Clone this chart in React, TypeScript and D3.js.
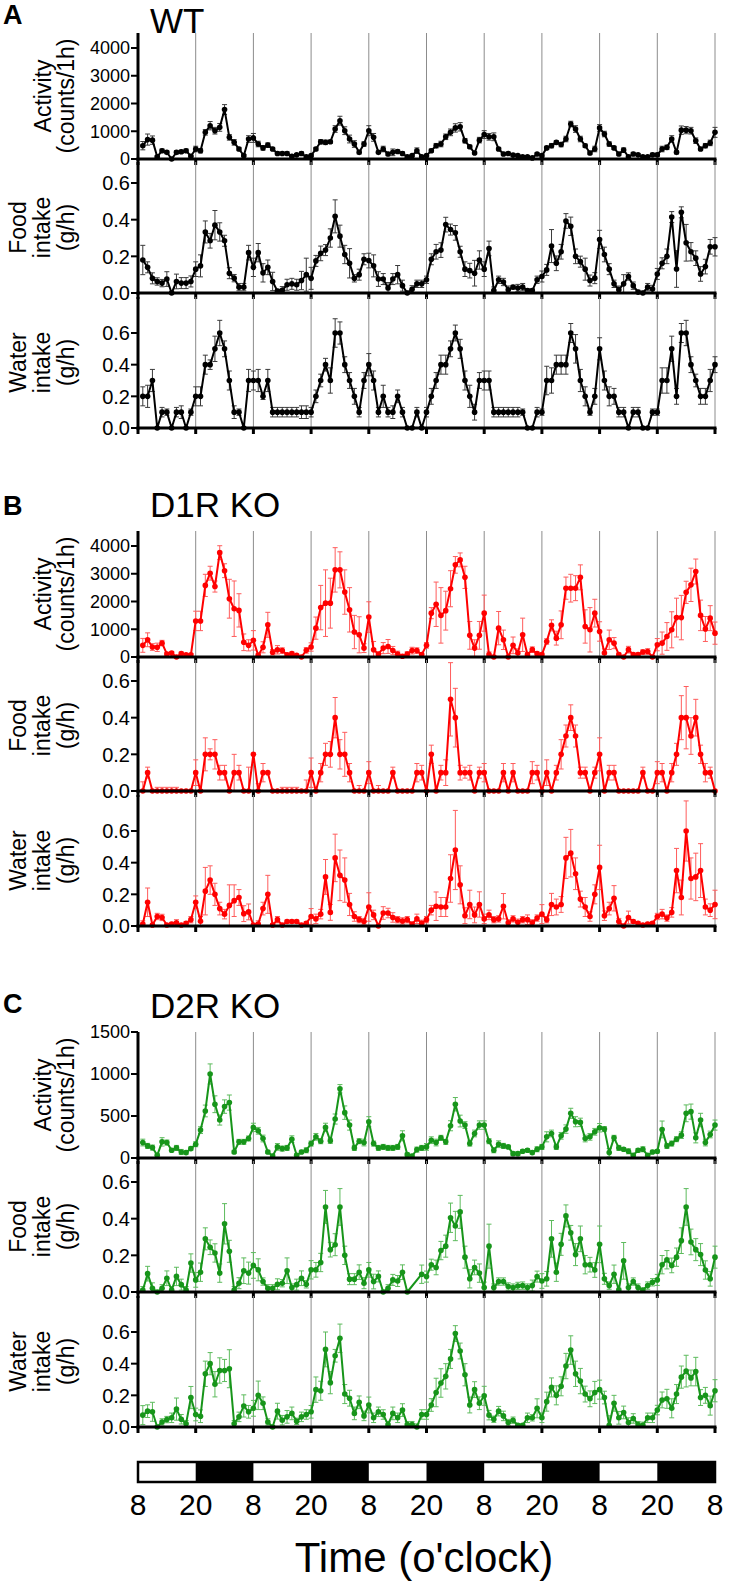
import React from 'react';
import * as d3 from 'd3';

// hourly bins 1..120 (five light/dark days starting 8 o'clock)
const hours = d3.range(1, 121);
const clockLabels = ['8', '20', '8', '20', '8', '20', '8', '20', '8', '20', '8'];
const activityTicksBig = [0, 1000, 2000, 3000, 4000];
const activityTicksSmall = [0, 500, 1000, 1500];
const intakeTicks = [0, 0.2, 0.4, 0.6];

// ---- WT ----
const actWT = [480,700,680,80,300,240,0,240,260,300,100,360, 300,960,1200,1020,1140,1780,780,600,360,120,720,760,
  540,400,500,360,200,200,200,100,150,200,80,120, 360,620,600,620,1080,1380,1020,720,540,240,540,1020,
  780,240,360,180,240,270,200,80,120,300,80,120, 300,480,540,800,960,1120,1160,660,440,216,680,880,
  800,800,360,180,200,140,120,80,80,40,180,120, 400,480,600,520,720,1260,1080,720,480,216,360,1120,
  900,540,400,180,320,80,180,150,80,80,150,150, 360,420,720,240,1040,1040,1020,660,360,480,580,960];
const actWTErr = [150,200,150,30,60,50,20,60,60,60,30,100, 80,100,150,120,140,180,100,100,60,40,120,160,
  100,80,80,60,60,50,60,40,40,60,30,40, 60,80,80,60,120,160,140,140,120,60,80,180,
  140,50,100,60,120,60,60,30,40,100,40,40, 60,80,100,100,120,150,150,80,60,40,100,140,
  120,140,60,60,50,60,40,40,30,40,40,60, 60,80,60,80,100,100,120,100,60,60,100,120,
  100,80,60,60,80,40,60,40,40,40,60,60, 100,80,120,60,150,130,120,100,60,80,100,180];
const foodWT = [0.18,0.14,0.08,0.063,0.054,0.076,0.0,0.063,0.054,0.054,0.063,0.13, 0.148,0.333,0.285,0.37,0.333,0.285,0.108,0.081,0.032,0.032,0.22,0.14,
  0.22,0.11,0.14,0.063,0.01,0.015,0.045,0.05,0.045,0.068,0.1,0.08, 0.175,0.216,0.234,0.3,0.418,0.31,0.21,0.162,0.08,0.1,0.184,0.177,
  0.148,0.076,0.076,0.027,0.076,0.1,0.04,0.0,0.02,0.05,0.05,0.072, 0.184,0.225,0.234,0.373,0.346,0.328,0.225,0.13,0.122,0.108,0.18,0.13,
  0.243,0.013,0.072,0.06,0.018,0.032,0.027,0.032,0.013,0.013,0.072,0.09, 0.126,0.256,0.162,0.225,0.393,0.364,0.2,0.171,0.13,0.068,0.081,0.292,
  0.21,0.13,0.05,0.018,0.05,0.09,0.04,0.005,0.0,0.032,0.022,0.104, 0.162,0.2,0.414,0.131,0.44,0.274,0.225,0.19,0.104,0.144,0.252,0.252];
const foodWTErr = [0.08,0.03,0.03,0.02,0.02,0.04,0.01,0.04,0.03,0.03,0.03,0.04, 0.06,0.06,0.04,0.08,0.05,0.03,0.03,0.02,0.02,0.02,0.04,0.05,
  0.05,0.05,0.04,0.05,0.01,0.02,0.03,0.03,0.03,0.05,0.09,0.06, 0.03,0.04,0.03,0.05,0.09,0.06,0.05,0.08,0.02,0.03,0.03,0.04,
  0.06,0.04,0.03,0.03,0.03,0.05,0.03,0.01,0.02,0.02,0.02,0.02, 0.03,0.04,0.04,0.04,0.03,0.04,0.03,0.04,0.04,0.07,0.05,0.04,
  0.04,0.02,0.02,0.02,0.02,0.01,0.02,0.02,0.01,0.01,0.02,0.03, 0.03,0.09,0.04,0.04,0.04,0.05,0.04,0.03,0.06,0.03,0.03,0.05,
  0.04,0.03,0.02,0.02,0.05,0.02,0.02,0.01,0.01,0.02,0.02,0.03, 0.03,0.04,0.03,0.10,0.03,0.10,0.05,0.04,0.04,0.04,0.04,0.05];
const waterWT = [0.2,0.2,0.3,0,0.1,0.1,0,0.1,0.1,0,0.1,0.2, 0.2,0.4,0.4,0.5,0.6,0.5,0.3,0.1,0.1,0,0.3,0.3,
  0.3,0.2,0.3,0.1,0.1,0.1,0.1,0.1,0.1,0.1,0.1,0.1, 0.2,0.3,0.4,0.3,0.6,0.6,0.4,0.3,0.2,0.1,0.3,0.4,
  0.3,0.1,0.2,0.1,0.1,0.2,0.1,0,0,0.1,0,0.1, 0.2,0.3,0.4,0.4,0.5,0.6,0.5,0.3,0.2,0.1,0.3,0.3,
  0.3,0.1,0.1,0.1,0.1,0.1,0.1,0.1,0,0,0.1,0.1, 0.3,0.3,0.4,0.4,0.4,0.6,0.5,0.3,0.2,0.1,0.2,0.5,
  0.3,0.2,0.2,0.1,0.1,0,0.1,0.1,0,0,0.1,0.1, 0.3,0.3,0.5,0.2,0.6,0.6,0.4,0.3,0.2,0.2,0.3,0.4];
const waterWTErr = [0.06,0.07,0.07,0,0.03,0.02,0,0.03,0.04,0,0.02,0.06, 0.06,0.06,0.03,0.08,0.08,0.05,0.06,0.04,0.02,0,0.07,0.06,
  0.07,0.02,0.07,0.03,0.03,0.03,0.03,0.03,0.03,0.04,0.04,0.03, 0.04,0.04,0.04,0.08,0.09,0.07,0.05,0.05,0.05,0.03,0.05,0.07,
  0.06,0.03,0.07,0.03,0.04,0.04,0.03,0,0,0.03,0,0.03, 0.05,0.05,0.06,0.06,0.05,0.05,0.06,0.06,0.07,0.05,0.05,0.06,
  0.06,0.03,0.03,0.03,0.03,0.03,0.03,0.02,0,0,0.03,0.02, 0.09,0.08,0.06,0.06,0.06,0.06,0.09,0.07,0.06,0.02,0.05,0.07,
  0.06,0.06,0.05,0.03,0.03,0,0.03,0.03,0,0,0.02,0.02, 0.08,0.08,0.08,0.05,0.06,0.08,0.05,0.04,0.05,0.05,0.07,0.05];

// ---- D1R KO ----
const actD1 = [420,620,360,350,500,110,140,0,120,80,80,1300, 1300,2580,3020,2540,3760,3110,2100,1740,1680,530,420,600,
  60,350,1160,170,260,230,80,120,60,0,240,360, 1040,1780,1940,1940,3140,3140,2340,1700,900,800,320,1440,
  260,110,320,380,230,110,25,110,230,230,90,420, 1580,1900,1500,1670,2460,3320,3500,2870,780,320,780,1580,
  84,0,1040,620,0,420,144,800,84,264,120,84, 560,1140,680,1160,2480,2480,2480,2870,1100,980,1580,920,
  144,620,500,84,0,264,84,84,180,200,0,444, 500,740,980,1420,1420,2330,2600,3080,1500,1010,1400,860];
const actD1Err = [250,250,120,150,100,60,60,20,60,40,40,350, 350,400,250,200,250,250,700,1000,600,300,200,350,
  60,200,450,100,150,100,60,60,40,30,100,150, 400,800,1200,900,800,650,800,800,600,650,160,550,
  300,60,200,250,150,100,40,80,120,100,60,100, 200,800,1000,700,650,300,250,400,500,300,500,650,
  100,60,600,350,60,300,150,600,80,100,60,60, 100,200,250,500,400,500,450,450,600,800,500,350,
  150,350,200,60,40,120,60,60,80,100,40,220, 400,500,650,700,800,400,600,450,550,450,450,400];
const foodD1 = [0,0.1,0,0,0,0,0,0,0,0,0,0.1, 0,0.2,0.2,0.2,0.1,0.1,0,0.1,0.1,0,0,0.2,
  0,0.1,0.1,0,0,0,0,0,0,0,0,0.1, 0,0.1,0.2,0.2,0.4,0.2,0.2,0.1,0,0,0,0.1,
  0,0,0,0,0.1,0,0,0,0,0.1,0.1,0, 0.2,0,0.1,0.1,0.5,0.4,0.1,0.1,0.1,0,0.1,0.1,
  0,0,0,0.1,0,0.1,0,0,0,0.1,0.1,0, 0.1,0,0.1,0.2,0.3,0.4,0.3,0.1,0.1,0,0.1,0.2,
  0,0.1,0.1,0,0,0,0,0,0.1,0,0,0.1, 0.1,0,0.1,0.2,0.4,0.4,0.3,0.4,0.2,0.1,0.1,0];
const foodD1Err = [0.05,0.03,0,0.02,0.02,0.02,0.02,0.02,0,0,0,0.07, 0,0.09,0.03,0.08,0.04,0.04,0,0.1,0.04,0,0.13,0,
  0.04,0.05,0,0,0,0.02,0.02,0.02,0.02,0,0.06,0.08, 0,0.05,0.06,0.07,0.11,0.08,0.12,0.05,0,0.03,0,0.06,
  0,0.03,0,0,0.03,0,0,0,0,0.05,0.04,0, 0.05,0,0.04,0.07,0.2,0.16,0.04,0.03,0.04,0,0.03,0.05,
  0,0,0,0.05,0,0.05,0,0,0,0.06,0.04,0, 0.07,0,0.04,0.08,0.06,0.07,0.06,0.03,0.03,0,0.03,0.09,
  0,0.04,0.04,0,0,0,0,0,0.03,0,0,0.06, 0.05,0,0.05,0.06,0.12,0.17,0.1,0.1,0.05,0.05,0.03,0];
const waterD1 = [0.013,0.15,0.006,0.06,0.054,0.006,0.013,0.02,0.006,0.017,0.04,0.15, 0.03,0.22,0.29,0.2,0.11,0.075,0.13,0.16,0.18,0.078,0.089,0.006,
  0.013,0.11,0.2,0.006,0.04,0.006,0.028,0.028,0.028,0.006,0.017,0.06, 0.045,0.075,0.31,0.086,0.43,0.32,0.29,0.136,0.06,0.04,0.028,0.12,
  0.07,0,0.082,0.082,0.054,0.04,0.032,0.04,0.013,0.045,0.017,0.04, 0.1,0.125,0.12,0.12,0.3,0.48,0.26,0.065,0.136,0.07,0.136,0.045,
  0.07,0.04,0.045,0.125,0.02,0.045,0.024,0.04,0.04,0.02,0.05,0.075, 0.04,0.136,0.12,0.136,0.43,0.46,0.33,0.17,0.12,0.06,0.2,0.37,
  0.065,0.11,0.175,0.028,0,0.054,0.028,0.017,0.006,0.013,0.017,0.06, 0.075,0.05,0.086,0.35,0.18,0.6,0.3,0.31,0.35,0.12,0.1,0.136];
const waterD1Err = [0.02,0.09,0.01,0.02,0.02,0.01,0.01,0.02,0.01,0.01,0.02,0.04, 0.03,0.15,0.09,0.07,0.04,0.03,0.13,0.1,0.05,0.05,0.05,0.01,
  0.02,0.04,0.12,0.01,0.02,0.01,0.01,0.01,0.01,0.01,0.01,0.05, 0.03,0.03,0.11,0.05,0.15,0.16,0.14,0.07,0.03,0.02,0.02,0.09,
  0.03,0.01,0.04,0.03,0.03,0.02,0.02,0.02,0.01,0.03,0.02,0.02, 0.03,0.09,0.06,0.06,0.15,0.25,0.12,0.05,0.09,0.05,0.08,0.03,
  0.03,0.02,0.02,0.08,0.02,0.02,0.02,0.02,0.03,0.02,0.02,0.06, 0.02,0.07,0.05,0.05,0.13,0.15,0.1,0.05,0.06,0.03,0.06,0.14,
  0.03,0.04,0.08,0.02,0.01,0.04,0.01,0.01,0.01,0.01,0.01,0.02, 0.03,0.02,0.03,0.14,0.11,0.19,0.13,0.15,0.17,0.05,0.04,0.09];

// ---- D2R KO ----
const actD2 = [184,144,124,32,192,184,92,120,72,64,112,164, 332,560,1000,640,452,612,660,72,192,192,232,364,
  324,232,72,24,132,112,120,224,32,72,92,172, 252,200,364,204,464,824,540,392,120,200,184,432,
  172,120,132,120,120,132,264,40,24,100,120,132, 212,184,240,192,384,640,440,392,172,292,392,392,
  200,92,164,144,132,52,52,80,92,64,104,132, 252,292,132,264,344,532,432,424,232,252,312,360,
  344,64,240,120,104,80,32,92,104,32,72,80, 340,144,172,224,272,532,552,240,452,184,280,392];
const actD2Err = [40,30,30,20,50,30,20,30,30,20,20,30, 40,70,120,100,60,80,90,20,30,30,30,50,
  40,40,20,20,40,30,30,40,20,20,30,30, 40,30,50,30,60,50,80,60,30,30,40,60,
  30,30,30,30,30,30,60,20,20,30,30,40, 40,40,30,30,60,80,70,40,30,40,50,50,
  30,30,40,30,20,20,20,20,20,20,30,30, 60,40,30,40,50,60,60,50,40,40,40,50,
  30,50,30,30,20,30,20,20,30,20,20,20, 100,30,30,30,40,100,90,60,80,40,40,60];
const foodD2 = [0.01,0.1,0.02,0.0,0.02,0.075,0.01,0.085,0.04,0.01,0.158,0.066, 0.108,0.29,0.244,0.213,0.103,0.372,0.222,0.01,0.048,0.116,0.103,0.145,
  0.121,0.057,0.02,0.02,0.042,0.048,0.116,0.024,0.04,0.075,0.042,0.121, 0.121,0.161,0.464,0.231,0.258,0.464,0.2,0.07,0.07,0.108,0.048,0.121,
  0.057,0.085,0.0,0.02,0.066,0.06,0.108,0.0,null,null,0.097,0.084, 0.149,0.134,0.226,0.25,0.405,0.36,0.437,0.19,0.072,0.134,0.103,0.024,
  0.25,0.024,0.057,0.057,0.03,0.024,0.033,0.035,0.024,0.035,0.084,0.06, 0.072,0.29,0.108,0.26,0.415,0.323,0.204,0.29,0.149,0.149,0.12,0.26,
  0.072,0.035,0.097,0.011,0.17,0.024,0.057,0.024,0.011,0.035,0.053,0.066, 0.149,0.176,0.145,0.19,0.28,0.464,0.273,0.231,0.204,0.12,0.072,0.19];
const foodD2Err = [0.02,0.04,0.03,0,0.02,0.04,0.02,0.05,0.03,0.02,0.05,0.04, 0.05,0.06,0.04,0.05,0.05,0.11,0.06,0.02,0.03,0.07,0.06,0.07,
  0.06,0.02,0.02,0.02,0.03,0.02,0.07,0.02,0.03,0.04,0.02,0.05, 0.04,0.05,0.09,0.04,0.06,0.1,0.05,0.03,0.03,0.04,0.03,0.04,
  0.04,0.03,0.01,0.02,0.03,0.03,0.04,0,0,0,0.05,0.03, 0.03,0.04,0.05,0.06,0.08,0.08,0.09,0.06,0.05,0.04,0.05,0.03,
  0.12,0.02,0.02,0.02,0.02,0.02,0.02,0.02,0.02,0.03,0.03,0.04, 0.04,0.1,0.05,0.06,0.06,0.04,0.06,0.07,0.05,0.04,0.04,0.1,
  0.03,0.02,0.05,0.01,0.1,0.02,0.02,0.02,0.01,0.02,0.02,0.03, 0.05,0.05,0.04,0.05,0.07,0.1,0.07,0.06,0.06,0.05,0.04,0.06];
const waterD2 = [0.075,0.1,0.096,0,0.032,0.047,0.058,0.113,0.049,0.021,0.186,0.079, 0.068,0.336,0.4,0.27,0.357,0.357,0.368,0.021,0.064,0.133,0.096,0.118,
  0.2,0.15,0.032,0,0.1,0.043,0.064,0.086,0.036,0.064,0.079,0.096, 0.236,0.229,0.49,0.28,0.45,0.56,0.208,0.182,0.086,0.156,0.07,0.139,
  0.058,0.096,0.079,0.015,0.086,0.058,0.107,0.015,0.015,0,0.079,0.079, 0.139,0.218,0.278,0.32,0.43,0.59,0.48,0.33,0.139,0.236,0.15,0.197,
  0.075,0.049,0.1,0.07,0.028,0.043,0.011,0.011,0.058,0.058,0.118,0.058, 0.16,0.25,0.2,0.257,0.385,0.486,0.336,0.29,0.208,0.178,0.218,0.236,
  0.186,0.011,0.15,0.058,0.092,0.028,0.054,0.015,0.011,0.058,0.058,0.107, 0.171,0.178,0.118,0.208,0.315,0.353,0.31,0.35,0.186,0.2,0.135,0.229];
const waterD2Err = [0.06,0.04,0.06,0.01,0.02,0.02,0.03,0.07,0.03,0.02,0.07,0.04, 0.04,0.08,0.07,0.08,0.08,0.07,0.12,0.02,0.03,0.07,0.04,0.05,
  0.09,0.04,0.02,0.01,0.05,0.03,0.04,0.04,0.02,0.03,0.03,0.04, 0.08,0.06,0.11,0.07,0.04,0.09,0.06,0.05,0.04,0.04,0.03,0.05,
  0.03,0.03,0.03,0.02,0.04,0.03,0.04,0.02,0.02,0.02,0.03,0.03, 0.04,0.09,0.09,0.08,0.06,0.05,0.05,0.07,0.05,0.05,0.04,0.06,
  0.03,0.02,0.03,0.03,0.02,0.02,0.01,0.01,0.03,0.02,0.06,0.03, 0.06,0.06,0.06,0.06,0.08,0.09,0.08,0.08,0.05,0.05,0.07,0.06,
  0.04,0.06,0.05,0.04,0.04,0.03,0.03,0.02,0.02,0.03,0.03,0.03, 0.05,0.06,0.06,0.06,0.07,0.1,0.05,0.09,0.05,0.05,0.06,0.07];

const FONT = "Helvetica, Arial, 'Liberation Sans', sans-serif";
const W = 730;
const HGT = 1583;
const LEFT = 138;
const RIGHT = 715;

const x = d3.scaleLinear().domain([0, 120]).range([LEFT, RIGHT]);
const boundaries = d3.range(0, 121, 12);

function Series({ values, errs, y, color, errColor }) {
  const pts = hours
    .map((h, i) => ({ h, v: values[i], e: errs[i] }))
    .filter((d) => d.v !== null && d.v !== undefined);
  const line = d3.line().x((d) => x(d.h)).y((d) => y(d.v));
  return (
    <g>
      {pts.map((d) => {
        if (!d.e) return null;
        const y1 = y(d.v + d.e);
        const y0 = y(Math.max(0, d.v - d.e));
        const cx = x(d.h);
        return (
          <g key={'e' + d.h} stroke={errColor} strokeWidth={1}>
            <line x1={cx} x2={cx} y1={y0} y2={y1} />
            <line x1={cx - 2.5} x2={cx + 2.5} y1={y1} y2={y1} />
            <line x1={cx - 2.5} x2={cx + 2.5} y1={y0} y2={y0} />
          </g>
        );
      })}
      <path d={line(pts)} fill="none" stroke={color} strokeWidth={2} strokeLinejoin="round" />
      {pts.map((d) => (
        <circle key={'c' + d.h} cx={x(d.h)} cy={y(d.v)} r={2.8} fill={color} />
      ))}
    </g>
  );
}

function Subplot({ zero, top, tickSpan, ticks, tickMax, fmt, tickFont, labelLines, labelX, values, errs, color, errColor }) {
  const y = d3.scaleLinear().domain([0, tickMax]).range([zero, zero - tickSpan]);
  const mid = (zero + top) / 2;
  return (
    <g>
      {boundaries.slice(1).map((b) => (
        <line key={'g' + b} x1={x(b)} x2={x(b)} y1={top} y2={zero} stroke="#8c8c8c" strokeWidth={1} />
      ))}
      <Series values={values} errs={errs} y={y} color={color} errColor={errColor} />
      <line x1={LEFT} x2={LEFT} y1={top} y2={zero + 1.5} stroke="#000" strokeWidth={3} />
      {ticks.map((t) => (
        <g key={'t' + t}>
          <line x1={LEFT - 7} x2={LEFT} y1={y(t)} y2={y(t)} stroke="#000" strokeWidth={2} />
          <text x={LEFT - 8} y={y(t)} dy="0.36em" textAnchor="end" fontSize={tickFont} fontFamily={FONT}>
            {fmt(t)}
          </text>
        </g>
      ))}
      <line x1={LEFT - 1.5} x2={RIGHT + 1.5} y1={zero} y2={zero} stroke="#000" strokeWidth={3} />
      {boundaries.map((b) => (
        <line key={'xt' + b} x1={x(b)} x2={x(b)} y1={zero} y2={zero + 6} stroke="#000" strokeWidth={3} />
      ))}
      {labelLines.map((s, i) => (
        <text
          key={s}
          transform={`translate(${labelX[i]},${mid}) rotate(-90)`}
          dy="0.35em"
          textAnchor="middle"
          fontSize={23}
          fontFamily={FONT}
        >
          {s}
        </text>
      ))}
    </g>
  );
}

const panels = [
  { letter: 'A', title: 'WT', offset: 0, titleY: 33, letterY: 24, color: '#000000', errColor: '#3a3a3a',
    act: actWT, actErr: actWTErr, food: foodWT, foodErr: foodWTErr, water: waterWT, waterErr: waterWTErr, small: false },
  { letter: 'B', title: 'D1R KO', offset: 498, titleY: 517, letterY: 515, color: '#ff0000', errColor: '#ff5c5c',
    act: actD1, actErr: actD1Err, food: foodD1, foodErr: foodD1Err, water: waterD1, waterErr: waterD1Err, small: false },
  { letter: 'C', title: 'D2R KO', offset: 999, titleY: 1018, letterY: 1013, color: '#17951a', errColor: '#5dbb5d',
    act: actD2, actErr: actD2Err, food: foodD2, foodErr: foodD2Err, water: waterD2, waterErr: waterD2Err, small: true },
];

const fmtInt = (v) => String(v);
const fmt1 = (v) => v.toFixed(1);

export default function App() {
  const barTop = 1462;
  const barH = 20;
  return (
    <svg
      width={W}
      height={HGT}
      viewBox={`0 0 ${W} ${HGT}`}
      style={{ position: 'absolute', left: 0, top: 0, background: '#fff' }}
    >
      <rect x={0} y={0} width={W} height={HGT} fill="#fff" />
      {panels.map((p) => (
        <g key={p.letter}>
          <text x={3} y={p.letterY} fontSize={27} fontWeight="bold" fontFamily={FONT}>{p.letter}</text>
          <text x={150} y={p.titleY} fontSize={35} fontFamily={FONT}>{p.title}</text>
          <Subplot
            zero={159 + p.offset}
            top={33 + p.offset}
            tickSpan={p.small ? 126 : 111}
            tickMax={p.small ? 1500 : 4000}
            ticks={p.small ? activityTicksSmall : activityTicksBig}
            fmt={fmtInt}
            tickFont={18}
            labelLines={['Activity', '(counts/1h)']}
            labelX={[43, 66]}
            values={p.act}
            errs={p.actErr}
            color={p.color}
            errColor={p.errColor}
          />
          <Subplot
            zero={293 + p.offset}
            top={162 + p.offset}
            tickSpan={110}
            tickMax={0.6}
            ticks={intakeTicks}
            fmt={fmt1}
            tickFont={20}
            labelLines={['Food', 'intake', '(g/h)']}
            labelX={[18, 42, 66]}
            values={p.food}
            errs={p.foodErr}
            color={p.color}
            errColor={p.errColor}
          />
          <Subplot
            zero={428 + p.offset}
            top={297 + p.offset}
            tickSpan={95}
            tickMax={0.6}
            ticks={intakeTicks}
            fmt={fmt1}
            tickFont={20}
            labelLines={['Water', 'intake', '(g/h)']}
            labelX={[18, 42, 66]}
            values={p.water}
            errs={p.waterErr}
            color={p.color}
            errColor={p.errColor}
          />
        </g>
      ))}
      {/* light / dark bar */}
      <rect x={LEFT} y={barTop} width={RIGHT - LEFT} height={barH} fill="#fff" stroke="#000" strokeWidth={2.5} />
      {boundaries.slice(0, -1).map((b, i) =>
        i % 2 === 1 ? (
          <rect key={'d' + b} x={x(b)} y={barTop} width={x(b + 12) - x(b)} height={barH} fill="#000" />
        ) : null
      )}
      {boundaries.map((b, i) => (
        <text key={'cl' + b} x={x(b)} y={1515} textAnchor="middle" fontSize={30} fontFamily={FONT}>
          {clockLabels[i]}
        </text>
      ))}
      <text x={424} y={1572} textAnchor="middle" fontSize={42} fontFamily={FONT}>Time (o'clock)</text>
    </svg>
  );
}
